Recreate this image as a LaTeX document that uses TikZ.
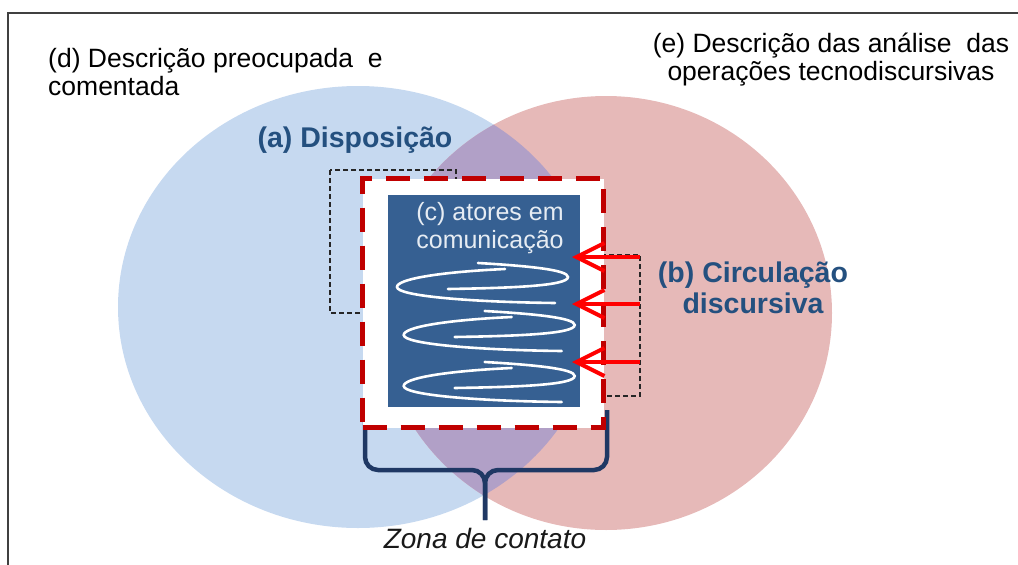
\documentclass[tikz,border=0pt]{standalone}
\usepackage{fontspec}
\setmainfont{Liberation Sans}
\usetikzlibrary{arrows.meta}
\definecolor{cblue}{HTML}{C6D9F0}
\definecolor{cpink}{HTML}{E6B9B8}
\definecolor{cpurp}{HTML}{B1A0C7}
\definecolor{navy}{HTML}{24507F}
\definecolor{boxblue}{HTML}{366092}
\definecolor{dred}{HTML}{C00000}
\definecolor{bracecol}{HTML}{1F3864}
\definecolor{ctext}{HTML}{E6ECF3}
\tikzset{
  plain/.style={font=\fontsize{26.5}{28}\selectfont, text=black, inner sep=0pt},
  bigbold/.style={font=\fontsize{28.5}{31}\selectfont\bfseries, text=navy, inner sep=0pt, align=center},
  thindash/.style={draw=black!85, line width=1.3pt, dash pattern=on 5pt off 3pt},
  redarrow/.style={draw=red, line width=4pt, -{Straight Barb[length=28pt,width=28pt,line width=4pt]}},
  coilline/.style={draw=white, line width=2.6pt, line cap=round},
  bracestyle/.style={draw=bracecol, line width=4.5pt, rounded corners=13pt}
}
\newcommand{\mycoil}[2]{%
  \begin{scope}[shift={(#1,#2)}]
    \draw[coilline] (478,263) .. controls (530,266) and (568,270) .. (568,277)
       .. controls (568,286) and (510,288) .. (448,289);
    \draw[coilline] (505,269) .. controls (440,272) and (397,279) .. (397,287)
       .. controls (397,296) and (470,302) .. (555,303);
  \end{scope}}
\begin{document}
\begin{tikzpicture}[x=1pt,y=-1pt]
\useasboundingbox (0,0) rectangle (1018,565);
% frame
\draw[line width=2pt, black!75] (8,566) -- (8,13) -- (1019,13);
% circles
\fill[cblue] (358,307) ellipse [x radius=240, y radius=221];
\fill[cpink] (606,313) ellipse [x radius=226, y radius=217];
\begin{scope}
  \clip (358,307) ellipse [x radius=240, y radius=221];
  \fill[cpurp] (606,313) ellipse [x radius=226, y radius=217];
\end{scope}
% thin dashed rectangles
\draw[thindash] (330,170) rectangle (456,313);
\draw[thindash] (540,255) rectangle (640,396);
% brace
\coordinate (bl) at (365,410);
\coordinate (br) at (607,410);
\coordinate (bt) at (485,520);
\draw[bracestyle] (bl) -- (365,470) -- (485,470) -- (bt);
\draw[bracestyle] (br) -- (607,470) -- (485,470) -- (bt);
% white box
\node[draw=dred, line width=5pt, dash pattern=on 24pt off 14pt, fill=white,
      minimum width=241pt, minimum height=249pt, inner sep=0pt] (box) at (483,303) {};
\node[fill=boxblue, minimum width=192pt, minimum height=212pt, inner sep=0pt] (inner) at (484,301) {};
% coils
\mycoil{0}{0}
\mycoil{6.7}{48}
\mycoil{6.7}{99}
% text c
\node[font=\fontsize{25}{28}\selectfont, text=ctext, align=center, anchor=base, inner sep=0pt] (c) at (490,248) {(c) atores em\\comunicação};
% red arrows
\coordinate (a1s) at (640,257); \coordinate (a1e) at (572,257);
\coordinate (a2s) at (640,304); \coordinate (a2e) at (572,304);
\coordinate (a3s) at (640,362); \coordinate (a3e) at (572,362);
\draw[redarrow] (a1s) -- (a1e);
\draw[redarrow] (a2s) -- (a2e);
\draw[redarrow] (a3s) -- (a3e);
% labels
\node[bigbold, anchor=base] (a) at (355,147) {(a) Disposição};
\node[bigbold, anchor=base] (b) at (753,313) {(b) Circulação\\discursiva};
\node[plain, align=left, anchor=base west] (d) at (48,95) {(d) Descrição preocupada~~e\\comentada};
\node[plain, align=center, anchor=base] (e) at (831,80) {(e) Descrição das análise~~das\\operações tecnodiscursivas};
\node[font=\fontsize{28}{32}\selectfont\itshape, text=black!90, inner sep=0pt, anchor=base] (z) at (485,548) {Zona de contato};
\end{tikzpicture}
\end{document}
